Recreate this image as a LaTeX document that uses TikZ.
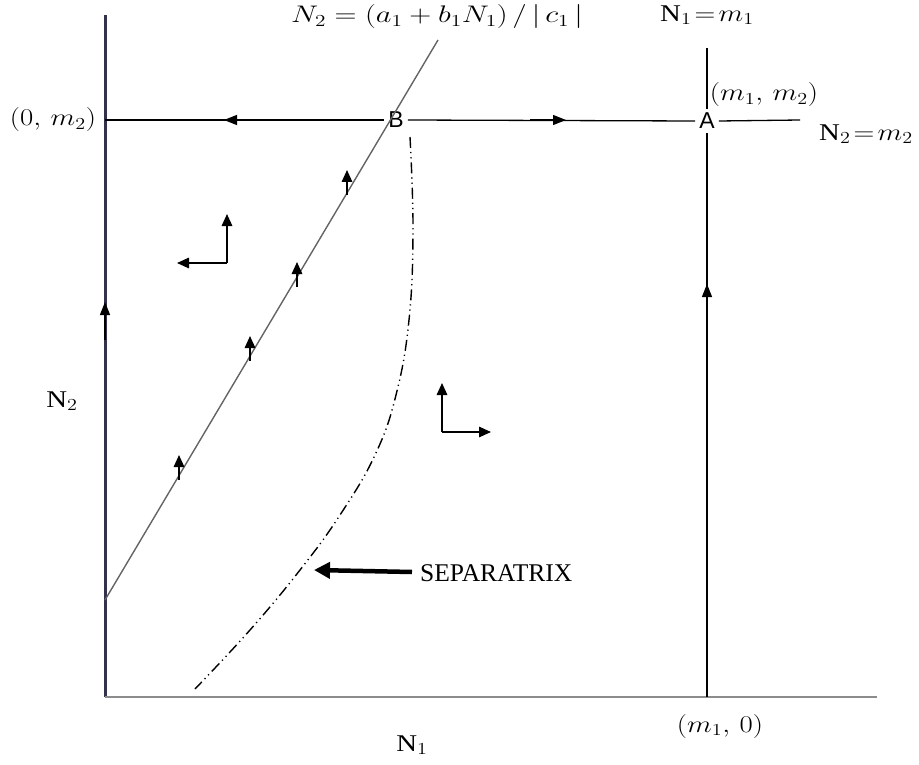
\RequirePackage{fix-cm}
\documentclass[tikz,border=0pt]{standalone}
\usepackage{fontspec}
\setmainfont{Liberation Serif}
\newfontfamily\arialfont{Liberation Sans}
\usetikzlibrary{arrows.meta}
\newcommand{\wide}[1]{\scalebox{1.2}[1.0]{#1}}
\tikzset{
  ln/.style={line width=1.3pt, black},
  fl/.style={line width=1.3pt, black, -{Triangle[length=13pt,width=10pt]}},
  sm/.style={line width=1.6pt, black, -{Triangle[length=12pt,width=10.5pt]}},
  lbl/.style={font=\fontsize{24}{28}\selectfont, inner sep=0pt},
  stxt/.style={font=\fontsize{25.5}{28}\selectfont, inner sep=0pt},
  pt/.style={font=\arialfont\fontsize{23}{26}\selectfont, inner sep=4pt},
  sep/.style={line width=1.4pt, dash pattern=on 11pt off 4pt on 1.2pt off 4pt on 1.2pt off 4pt}
}
\begin{document}
\begin{tikzpicture}[x=1pt,y=-1pt]
\useasboundingbox (0,0) rectangle (919,765);
% axes
\coordinate (O) at (105,697);
\coordinate (Ytop) at (105,15);
\coordinate (Xend) at (877,697);
\draw[line width=3pt, color={rgb,255:red,50;green,50;blue,75}] (O) -- (Ytop);
\draw[line width=2.2pt, color={rgb,255:red,140;green,140;blue,140}] (O) -- (Xend);
% points
\node[pt] (B) at (396,120) {B};
\node[pt] (A) at (707,121) {A};
% horizontal line N2=m2
\coordinate (H0) at (105,120);
\coordinate (Hend) at (800,120);
\draw[ln] (H0) -- (B.west);
\draw[ln] (B.east) -- (A.west);
\draw[ln] (A.east) -- (Hend);
\coordinate (HL) at (260,120);
\coordinate (HLt) at (224,120);
\draw[fl] (HL) -- (HLt);
\coordinate (HR) at (530,120);
\coordinate (HRt) at (566,120);
\draw[fl] (HR) -- (HRt);
% vertical line N1=m1
\coordinate (Vtop) at (707,48);
\coordinate (Vbot) at (707,697);
\draw[ln] (Vtop) -- (A.north);
\draw[ln] (A.south) -- (Vbot);
\coordinate (VA) at (707,320);
\coordinate (VAt) at (707,284);
\draw[fl] (VA) -- (VAt);
% y-axis arrow
\coordinate (YA) at (105,340);
\coordinate (YAt) at (105,302);
\draw[fl] (YA) -- (YAt);
% diagonal isocline
\coordinate (D0) at (105,600);
\coordinate (D1) at (438,40);
\draw[line width=1.4pt, color={rgb,255:red,100;green,100;blue,100}] (D0) -- (D1);
% small arrows on isocline
\foreach \x/\y [count=\i] in {179/480, 250/361, 297/287, 347/195} {
  \coordinate (s\i) at (\x,\y);
  \coordinate (t\i) at (\x,\y-25);
  \draw[sm] (s\i) -- (t\i);
}
% corner arrows
\coordinate (C1) at (227,263);
\coordinate (C1u) at (227,214);
\coordinate (C1l) at (177,263);
\draw[sm] (C1) -- (C1u);
\draw[sm] (C1) -- (C1l);
\coordinate (C2) at (442,432);
\coordinate (C2u) at (442,383);
\coordinate (C2r) at (491,432);
\draw[sm] (C2) -- (C2u);
\draw[sm] (C2) -- (C2r);
% separatrix
\draw[sep] plot[smooth, tension=0.7] coordinates {(410,137) (413,230) (409,320) (396,395) (375,455) (340,515) (300,570) (250,630) (195,689)};
% separatrix label and arrow
\node[stxt, anchor=west] (S) at (420,573) {SEPARATRIX};
\coordinate (Sa) at (412,572);
\coordinate (Sb) at (314,570);
\draw[line width=4.5pt, -{Triangle[length=16pt,width=16pt]}] (Sa) -- (Sb);
% labels
\node[lbl] (eq) at (437,17) {\scalebox{1.27}[1.0]{$N_2=(a_1+b_1N_1)\,/\,|\,c_1\,|$}};
\node[lbl] (n1m1) at (707,15) {\wide{$\mathrm{N}_1\!=\!m_1$}};
\node[lbl] (m1m2) at (764,95) {\wide{$(m_1,\,m_2)$}};
\node[lbl] (n2m2) at (866,134) {\wide{$\mathrm{N}_2\!=\!m_2$}};
\node[lbl] (zm2) at (53,120) {\wide{$(0,\,m_2)$}};
\node[lbl] (N2) at (62,401) {\wide{$\mathrm{N}_2$}};
\node[lbl] (N1) at (412,745) {\wide{$\mathrm{N}_1$}};
\node[lbl] (m10) at (720,726) {\wide{$(m_1,\,0)$}};
\end{tikzpicture}
\end{document}
